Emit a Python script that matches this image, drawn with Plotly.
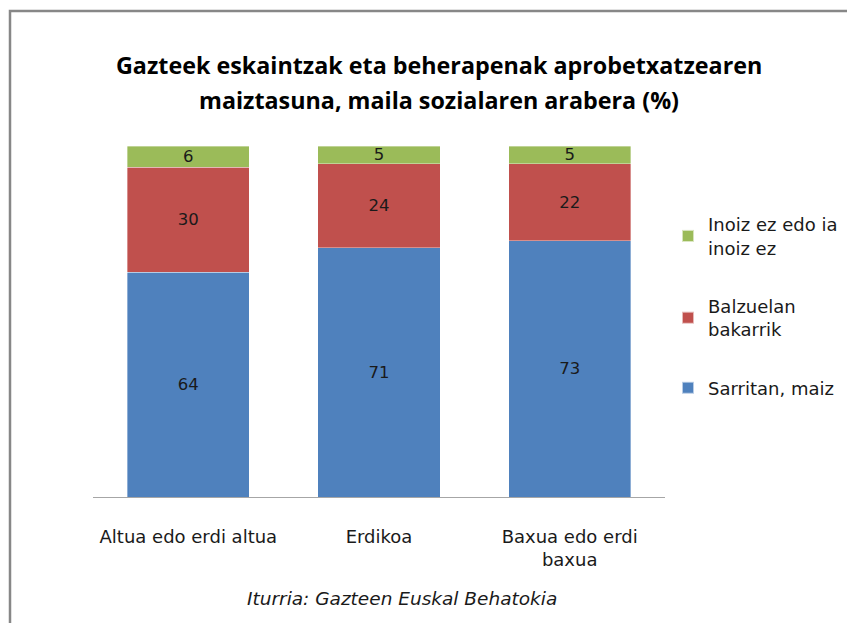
import plotly.graph_objects as go

categories = ["Altua edo erdi altua", "Erdikoa", "Baxua edo erdi<br>baxua"]
sarritan = [64, 71, 73]
batzuetan = [30, 24, 22]
inoiz = [6, 5, 5]
series_names = ["Sarritan, maiz", "Balzuelan<br>bakarrik", "Inoiz ez edo ia<br>inoiz ez"]
colors = ["#4F81BD", "#C0504D", "#9BBB59"]
title_lines = ["Gazteek eskaintzak eta beherapenak aprobetxatzearen",
               "maiztasuna, maila sozialaren arabera (%)"]
source = "Iturria: Gazteen Euskal Behatokia"

W, H = 847, 623
L, R, T, B = 93, 847 - 665, 146, 623 - 497
pw, ph = W - L - R, H - T - B

def px(x):
    return (x - L) / pw

def py(y):
    return (H - B - y) / ph

TFONT = "'Open Sans', sans-serif"
FONT = "'DejaVu Sans', sans-serif"

fig = go.Figure()
for i, (name, vals, col) in enumerate(zip(series_names, [sarritan, batzuetan, inoiz], colors)):
    fig.add_trace(go.Bar(
        x=categories, y=vals, name=name, legendgroup=str(i), legendrank=3 - i,
        marker=dict(color=col, line=dict(color="rgba(255,255,255,0.6)", width=0.6)),
        text=[str(v) for v in vals], textposition="inside", insidetextanchor="middle",
        textangle=0,
        textfont=dict(color="#1a1a1a", size=16.5, family=FONT),
        constraintext="none", hoverinfo="skip",
    ))

fig.update_layout(
    width=W, height=H,
    margin=dict(l=L, r=R, t=T, b=B, autoexpand=False),
    barmode="stack", bargap=0.36,
    plot_bgcolor="white", paper_bgcolor="white",
    showlegend=True,
    legend=dict(
        x=px(668), y=py(206), xanchor="left", yanchor="top",
        traceorder="grouped", font=dict(size=18, family=FONT, color="#1a1a1a"),
        itemsizing="constant", tracegroupgap=32, bgcolor="rgba(0,0,0,0)",
        itemwidth=30,
    ),
    xaxis=dict(showline=True, linecolor="#A6A6A6", linewidth=1, ticks="",
               ticklabelstandoff=23,
               tickfont=dict(size=18, family=FONT, color="#1a1a1a"), showgrid=False),
    yaxis=dict(range=[0, 100], visible=False, showgrid=False),
    font=dict(family=FONT),
    annotations=[
        dict(text="<b>%s</b>" % title_lines[0],
             x=px(439), y=py(65), xref="paper", yref="paper", showarrow=False,
             xanchor="center", yanchor="middle",
             font=dict(size=23.3, family=TFONT, color="#000000")),
        dict(text="<b>%s</b>" % title_lines[1],
             x=px(439), y=py(100), xref="paper", yref="paper", showarrow=False,
             xanchor="center", yanchor="middle",
             font=dict(size=23.3, family=TFONT, color="#000000")),
        dict(text="<i>%s</i>" % source,
             x=px(402), y=py(598), xref="paper", yref="paper", showarrow=False,
             xanchor="center", yanchor="middle",
             font=dict(size=18.5, family=FONT, color="#1a1a1a")),
    ],
    shapes=[
        dict(type="rect", xref="paper", yref="paper",
             x0=px(10), x1=px(860), y0=py(640), y1=py(11),
             line=dict(color="#878787", width=2.5), fillcolor="rgba(0,0,0,0)", layer="below"),
    ],
)

fig.write_html("out.html", config={"displayModeBar": False},
               post_script="document.body.style.margin='0';document.body.style.overflow='hidden';")
